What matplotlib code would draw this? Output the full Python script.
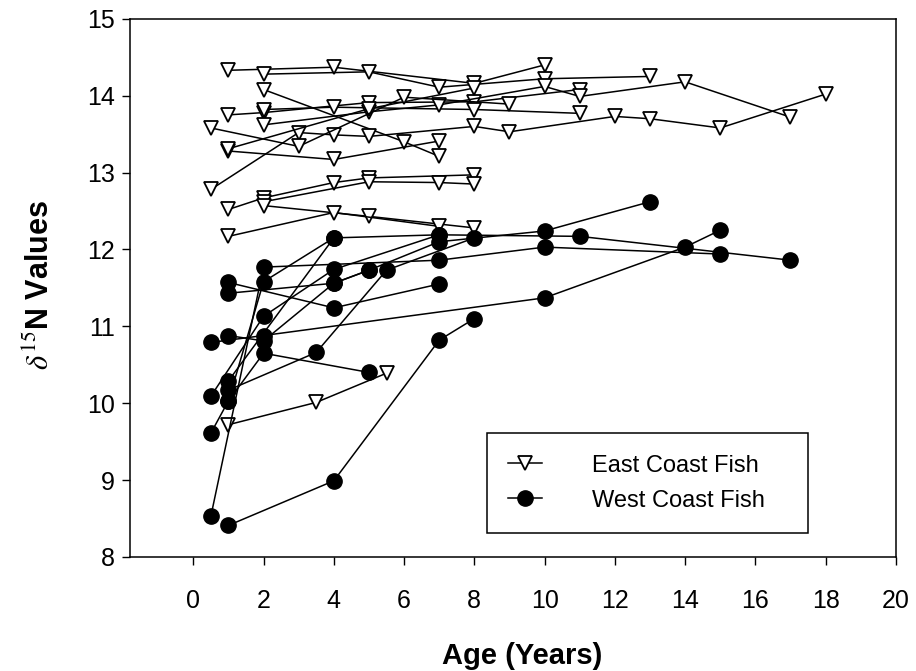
import numpy as np
import matplotlib
matplotlib.use("Agg")
from matplotlib import pyplot as plt
from matplotlib.legend_handler import HandlerLine2D

plt.rcParams['font.family'] = ['Liberation Sans', 'DejaVu Sans']
plt.rcParams['mathtext.fontset'] = 'stix'

# East coast fish (open triangles): one list of ages / values per fish
east_ages = [
    [1, 4, 8, 10],
    [2, 5, 7, 10, 13],
    [2, 6, 7],
    [1, 2, 5, 8, 11],
    [2, 4, 8, 11],
    [2, 5, 7, 10, 11, 14, 17],
    [0.5, 3, 4, 5, 8, 9, 12, 13, 15, 18],
    [1, 4, 7],
    [1, 5, 8],
    [0.5, 3, 6, 9],
    [1, 2, 4, 5, 8],
    [2, 5, 7, 8],
    [2, 5, 8],
    [1, 4, 7],
    [1, 3.5, 5.5],
]
east_vals = [
    [14.33, 14.37, 14.16, 14.40],
    [14.28, 14.31, 14.11, 14.22, 14.25],
    [14.08, 13.40, 13.21],
    [13.75, 13.78, 13.91, 13.92, 14.08],
    [13.82, 13.85, 13.82, 13.77],
    [13.62, 13.79, 13.88, 14.12, 13.99, 14.18, 13.72],
    [12.78, 13.52, 13.49, 13.47, 13.60, 13.53, 13.73, 13.70, 13.58, 14.02],
    [13.28, 13.17, 13.41],
    [13.31, 13.83, 14.10],
    [13.58, 13.34, 13.98, 13.89],
    [12.52, 12.67, 12.87, 12.93, 12.97],
    [12.62, 12.88, 12.87, 12.85],
    [12.57, 12.43, 12.28],
    [12.17, 12.48, 12.30],
    [9.72, 10.01, 10.39],
]

# West coast fish (filled circles)
west_ages = [
    [0.5, 2, 10, 14, 15],
    [1, 3.5, 5.5, 8],
    [0.5, 2, 7, 10, 15],
    [1, 4, 7],
    [1, 4, 5, 7, 10, 13],
    [1, 4, 7, 11, 17],
    [0.5, 1, 2, 4],
    [0.5, 2, 4, 7],
    [1, 2, 4, 5],
    [1, 2, 5],
    [1, 4, 7, 8],
]
west_vals = [
    [10.79, 10.88, 11.37, 12.03, 12.25],
    [10.17, 10.66, 11.73, 12.15],
    [8.53, 11.77, 11.86, 12.03, 11.94],
    [11.57, 11.24, 11.55],
    [11.43, 11.56, 11.73, 12.10, 12.24, 12.62],
    [10.29, 12.15, 12.19, 12.17, 11.86],
    [9.61, 10.03, 11.58, 12.15],
    [10.09, 11.13, 11.74, 12.19],
    [10.88, 10.81, 11.56, 11.73],
    [10.03, 10.65, 10.40],
    [8.41, 8.99, 10.82, 11.10],
]

x_ticks = list(range(0, 21, 2))
y_ticks = list(range(8, 16))


class RightMarker(HandlerLine2D):
    # legend handle: line with the marker at its right end
    def get_xdata(self, legend, xdescent, ydescent, width, height, fontsize):
        xdata = np.array([-xdescent, -xdescent + width])
        return xdata, np.array([-xdescent + width])


fig = plt.figure(figsize=(9.16, 6.71), dpi=100)
ax = fig.add_axes([0.142, 0.170, 0.836, 0.802])

east_style = dict(color='black', lw=1.1, marker='v', markersize=10,
                  markerfacecolor='white', markeredgecolor='black', markeredgewidth=1.3)
west_style = dict(color='black', lw=1.1, marker='o', markersize=11,
                  markerfacecolor='black', markeredgecolor='black')

for a, v in zip(east_ages, east_vals):
    h_east, = ax.plot(a, v, **east_style)
for a, v in zip(west_ages, west_vals):
    h_west, = ax.plot(a, v, **west_style)

ax.set_xlim(-1.8, 20)
ax.set_ylim(8, 15)
ax.set_xticks(x_ticks)
ax.set_yticks(y_ticks)
ax.tick_params(axis='x', direction='out', length=6, width=1, pad=17, labelsize=18)
ax.tick_params(axis='y', direction='out', length=6, width=1, pad=5, labelsize=18)
for s in ax.spines.values():
    s.set_linewidth(1.1)

ax.set_xlabel('Age (Years)', fontsize=21, fontweight='bold', va='top')
ax.xaxis.set_label_coords(0.512, -0.158)
ax.set_ylabel(r'$\delta^{15}$' + 'N Values', fontsize=22, fontweight='bold')
ax.yaxis.set_label_coords(-0.097, 0.506)

leg = ax.legend([h_east, h_west], ['East Coast Fish', 'West Coast Fish'],
                handler_map={h_east: RightMarker(), h_west: RightMarker()},
                loc='lower left', bbox_to_anchor=(0.466, 0.0446, 0.419, 0.186),
                mode='expand', fontsize=17,
                fancybox=False, edgecolor='black', framealpha=1,
                handlelength=1.45, handletextpad=2.1, borderpad=0.9,
                labelspacing=0.55, borderaxespad=0)
leg.get_frame().set_linewidth(1.1)

fig.savefig('out.png', dpi=100)
